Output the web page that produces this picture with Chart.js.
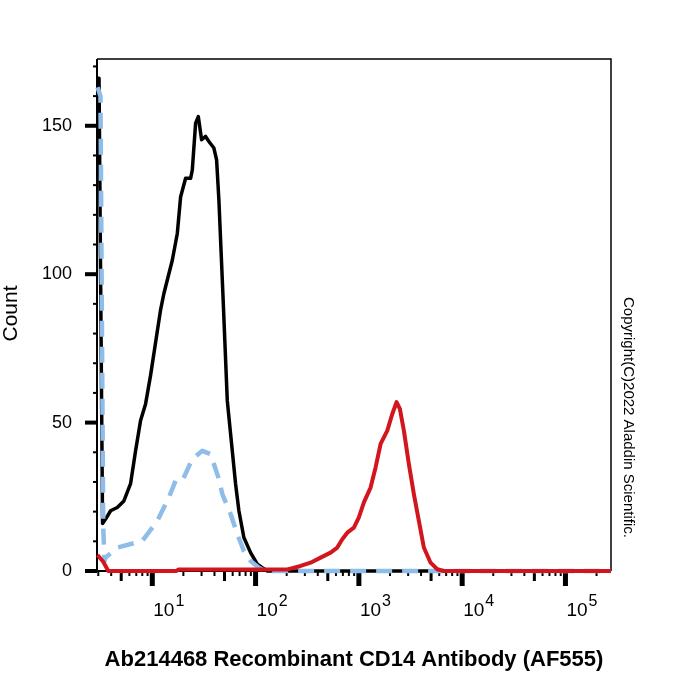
<!DOCTYPE html>
<html><head><meta charset="utf-8">
<script src="https://cdn.jsdelivr.net/npm/chart.js@4.4.1/dist/chart.umd.min.js"></script>
<style>html,body{margin:0;padding:0;background:#fff}</style>
</head><body>
<canvas id="c" width="700" height="700"></canvas>
<script>
// ---- data ----
const blackX = [2.95, 3.05, 3.3, 3.53, 3.95, 4.58, 5.31, 6.16, 6.89, 7.70, 8.61, 9.63, 10.76, 12.03, 12.95, 15.62, 17.46, 18.79, 21.01, 23.49, 24.39, 26.26, 27.88, 30.01, 32.81, 35.31, 39.48, 41.93, 44.13, 45.84, 48.24, 53.21, 57.28, 64.03, 68.92, 77.01, 89.45, 103.9, 116.1, 130, 276000];
const blackY = [166, 166, 16, 17.5, 20.3, 21.4, 23.6, 29.4, 40.5, 50.7, 56.3, 66, 77, 88, 93.5, 104.7, 113.7, 126, 132.3, 132.3, 135.1, 150.9, 153.1, 145.3, 146.4, 144.7, 142.5, 138.5, 125, 111.5, 93.5, 57.4, 46.2, 29.3, 20.3, 11.3, 6.2, 2.3, 1.1, 0, 0];

const blueX = [2.95, 3.15, 3.35, 3.45, 3.53, 4.58, 8.0, 11.18, 14.48, 16.81, 19.52, 24.39, 30.49, 36.67, 44.13, 47.62, 57.28, 66.5, 77.01, 89.45, 107.6, 125, 276000];
const blueY = [163, 160, 14.6, 3.4, 4.5, 7.9, 10.1, 16.9, 24.8, 30.4, 30.4, 37.7, 40.5, 39.4, 31, 25.9, 19.2, 12.4, 6.8, 3.4, 1.1, 0, 0];

const redX = [2.95, 3.35, 3.75, 17, 18, 190, 202.7, 218.2, 272.7, 340.7, 425.8, 532.1, 617.9, 690.8, 772.2, 894.5, 997.7, 1118, 1298, 1451, 1623, 1884, 2105, 2317, 2494, 2727, 3049, 3407, 3809, 4258, 4944, 5741, 6648, 276000];
const redY = [5.4, 3.1, 0, 0, 0.5, 0.5, 0.5, 0.8, 1.7, 2.8, 4.5, 6.2, 7.9, 10.7, 12.9, 14.6, 18, 23.1, 28.1, 34.9, 42.8, 47.3, 52.9, 56.9, 54.6, 47.3, 36, 25.9, 16.9, 7.9, 2.8, 0.6, 0, 0];

const yTickValues = [0, 10, 20, 30, 40, 50, 60, 70, 80, 90, 100, 110, 120, 130, 140, 150, 160, 170];
const xDecades = [1, 10, 100, 1000, 10000, 100000];
const xDecadeLabels = ['10', '10', '10', '10', '10', '10'];
const xDecadeExps = ['0', '1', '2', '3', '4', '5'];

const xTitle = 'Ab214468 Recombinant CD14 Antibody (AF555)';
const yTitle = 'Count';
const copyright = 'Copyright(C)2022 Aladdin Scientific.';

const X_MIN = 2.915, X_MAX = 276000, Y_MAX = 172.5;

const pts = (xs, ys) => xs.map((x, i) => ({x, y: ys[i]}));
const FONT = "'Liberation Sans', Arial, Helvetica, sans-serif";
Chart.defaults.font.family = FONT;
Chart.defaults.color = '#000';

const decor = {
  id: 'decor',
  beforeDatasetsDraw(chart) {
    const {ctx, chartArea: a, scales: {x, y}} = chart;
    ctx.save();
    ctx.strokeStyle = '#000';
    ctx.lineCap = 'butt';
    ctx.lineWidth = 1.5;
    ctx.beginPath(); ctx.moveTo(a.left, a.top); ctx.lineTo(a.right, a.top); ctx.lineTo(a.right, a.bottom); ctx.stroke();
    ctx.lineWidth = 2;
    ctx.beginPath(); ctx.moveTo(a.left, a.top); ctx.lineTo(a.left, a.bottom); ctx.lineTo(a.right, a.bottom); ctx.stroke();
    y.ticks.forEach(t => {
      const py = y.getPixelForValue(t.value);
      const major = t.value % 50 === 0;
      ctx.lineWidth = major ? 4 : 2;
      ctx.beginPath(); ctx.moveTo(a.left - (major ? 12 : 4), py); ctx.lineTo(a.left, py); ctx.stroke();
    });
    x.ticks.forEach(t => {
      const px = x.getPixelForValue(t.value);
      const e = Math.floor(Math.log10(t.value) + 1e-9);
      const m = Math.round(t.value / Math.pow(10, e));
      const len = m === 1 ? 15 : (m === 5 ? 10 : 5);
      ctx.lineWidth = m === 1 ? 5 : (m === 5 ? 3 : 2);
      ctx.beginPath(); ctx.moveTo(px, a.bottom); ctx.lineTo(px, a.bottom + len); ctx.stroke();
    });
    ctx.restore();
  },
  afterDraw(chart) {
    const {ctx, chartArea: a, scales: {x}} = chart;
    ctx.save();
    ctx.fillStyle = '#000';
    xDecades.forEach((v, i) => {
      if (v < X_MIN || v > X_MAX) return;
      const px = x.getPixelForValue(v);
      ctx.font = '19px ' + FONT;
      ctx.textAlign = 'left'; ctx.textBaseline = 'alphabetic';
      ctx.fillText(xDecadeLabels[i], px + 1, 616);
      const w = ctx.measureText(xDecadeLabels[i]).width;
      ctx.font = '16px ' + FONT;
      ctx.fillText(xDecadeExps[i], px + 2 + w, 606);
    });
    ctx.font = 'bold 22px ' + FONT;
    ctx.textAlign = 'center';
    ctx.fillText(xTitle, 354, 666);
    ctx.save();
    ctx.translate(16.5, 313.5); ctx.rotate(-Math.PI / 2);
    ctx.font = '21px ' + FONT;
    ctx.textAlign = 'center';
    ctx.fillText(yTitle, 0, 0);
    ctx.restore();
    ctx.save();
    ctx.translate(624, 417.5); ctx.rotate(Math.PI / 2);
    ctx.font = '15px ' + FONT;
    ctx.textAlign = 'center';
    ctx.fillText(copyright, 0, 0);
    ctx.restore();
    ctx.restore();
  }
};

new Chart(document.getElementById('c'), {
  type: 'line',
  data: {
    datasets: [
      {data: pts(redX, redY), borderColor: '#D3161D', borderWidth: 4, order: 0},
      {data: pts(blueX, blueY), borderColor: '#8DBDE8', borderWidth: 4.5, borderDash: [16, 10], order: 1},
      {data: pts(blackX, blackY), borderColor: '#000000', borderWidth: 3.5, order: 2}
    ]
  },
  options: {
    responsive: false,
    animation: false,
    devicePixelRatio: 1,
    layout: {padding: {top: 59, right: 89, left: 0, bottom: 0}},
    elements: {
      point: {radius: 0},
      line: {tension: 0, fill: false, borderJoinStyle: 'round', borderCapStyle: 'butt'}
    },
    datasets: {line: {clip: 4}},
    plugins: {legend: {display: false}, tooltip: {enabled: false}},
    scales: {
      x: {
        type: 'logarithmic', min: X_MIN, max: X_MAX,
        grid: {display: false, drawTicks: false},
        border: {display: false},
        ticks: {display: false},
        afterBuildTicks(s) {
          const t = [];
          for (let e = 0; e <= 5; e++) for (let m = 1; m <= 9; m++) {
            const v = m * Math.pow(10, e);
            if (v >= X_MIN && v <= X_MAX) t.push({value: v});
          }
          s.ticks = t;
        },
        afterFit(s) { s.height = 129; }
      },
      y: {
        type: 'linear', min: 0, max: Y_MAX,
        grid: {display: false, drawTicks: false},
        border: {display: false},
        ticks: {
          autoSkip: false, padding: 25, font: {size: 18}, color: '#000',
          callback: (v) => (v % 50 === 0 ? String(v) : '')
        },
        afterBuildTicks(s) { s.ticks = yTickValues.map(v => ({value: v})); },
        afterFit(s) { s.width = 97; }
      }
    }
  },
  plugins: [decor]
});
</script>
</body></html>
